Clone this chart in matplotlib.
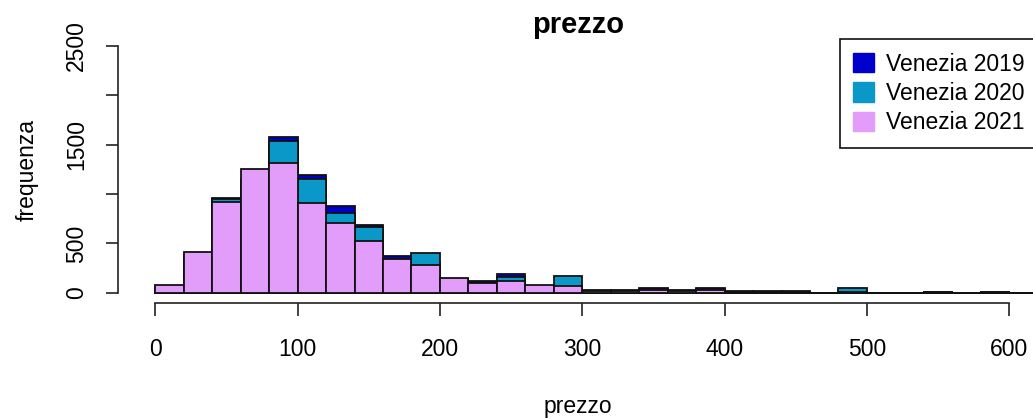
import numpy as np
import matplotlib
matplotlib.use("Agg")
import matplotlib.pyplot as plt
from matplotlib.patches import Patch

plt.rcParams['font.family'] = ['Liberation Sans', 'DejaVu Sans']

# price bins (left edges, width 20)
bin_width = 20
bin_left = list(range(0, 640, bin_width))

# counts per bin for each year
venezia_2019 = [60, 350, 960, 1100, 1575, 1192, 877, 691, 372, 300,
                130, 119, 187, 60, 60, 27, 27, 48, 27, 48,
                15, 15, 15, 0, 20, 0, 0, 12, 0, 12, 0, 0]
venezia_2020 = [70, 380, 950, 1150, 1538, 1152, 813, 667, 330, 406,
                140, 100, 163, 60, 170, 20, 20, 40, 20, 40,
                10, 10, 10, 0, 45, 0, 0, 10, 0, 10, 0, 0]
venezia_2021 = [81, 417, 921, 1253, 1311, 911, 708, 521, 338, 277,
                155, 95, 116, 75, 68, 22, 22, 30, 22, 30,
                8, 8, 8, 0, 5, 0, 0, 8, 0, 8, 0, 0]

series_labels = ["Venezia 2019", "Venezia 2020", "Venezia 2021"]
series_colors = ["#0000CD", "#0A98C8", "#E29CF9"]

x_ticks = [0, 100, 200, 300, 400, 500, 600]
y_ticks = [0, 500, 1000, 1500, 2000, 2500]
# labels that would overlap are left out, as in base R axes
y_tick_labels = ["0", "500", "", "1500", "", "2500"]

W, H = 1033, 419
fig = plt.figure(figsize=(W / 100, H / 100), dpi=100)
left, right, top, bottom = 118, 1038, 36, 302.7
ax = fig.add_axes([left / W, (H - bottom) / H, (right - left) / W, (bottom - top) / H])

# overlaid histograms: 2019 first, 2021 on top
for counts, color in zip([venezia_2019, venezia_2020, venezia_2021], series_colors):
    ax.bar(bin_left, counts, width=bin_width, align='edge', color=color,
           edgecolor='#111111', linewidth=1.3)

ax.set_xlim(-26.2, 620.2)
ax.set_ylim(-100, 2600)

for s in ['top', 'right']:
    ax.spines[s].set_visible(False)
ax.spines['left'].set_bounds(0, 2500)
ax.spines['bottom'].set_bounds(0, 600)
for s in ['left', 'bottom']:
    ax.spines[s].set_linewidth(1.2)
    ax.spines[s].set_color('#222222')

ax.set_xticks(x_ticks)
ax.set_yticks(y_ticks)
ax.set_xticklabels([str(v) for v in x_ticks])
ax.set_yticklabels(y_tick_labels, rotation=90, va='center')
ax.tick_params(axis='x', length=9.5, width=1.2, pad=16, labelsize=16.5, color='#222222')
ax.tick_params(axis='y', length=8.6, width=1.2, pad=13, labelsize=16.5, color='#222222')

fig.text((left + right) / 2 / W, 1 - 25 / H, "prezzo", ha='center', va='center',
         fontsize=21, fontweight='bold')
fig.text((left + right) / 2 / W, 1 - 406 / H, "prezzo", ha='center', va='center',
         fontsize=16.5)
fig.text(27 / W, 1 - 170 / H, "frequenza", ha='center', va='center',
         rotation=90, fontsize=16.5)

handles = [Patch(facecolor=c, edgecolor=c) for c in series_colors]
leg = ax.legend(handles, series_labels, loc='upper right',
                bbox_to_anchor=(1.0, 1.0 - 3 / (bottom - top)),
                borderaxespad=0.0, fontsize=16.5, handlelength=0.91, handleheight=0.91,
                handletextpad=0.5, labelspacing=0.27, borderpad=0.6,
                fancybox=False, framealpha=1, edgecolor='#111111')
leg.get_frame().set_linewidth(1.2)

fig.savefig("out.png", dpi=100)
